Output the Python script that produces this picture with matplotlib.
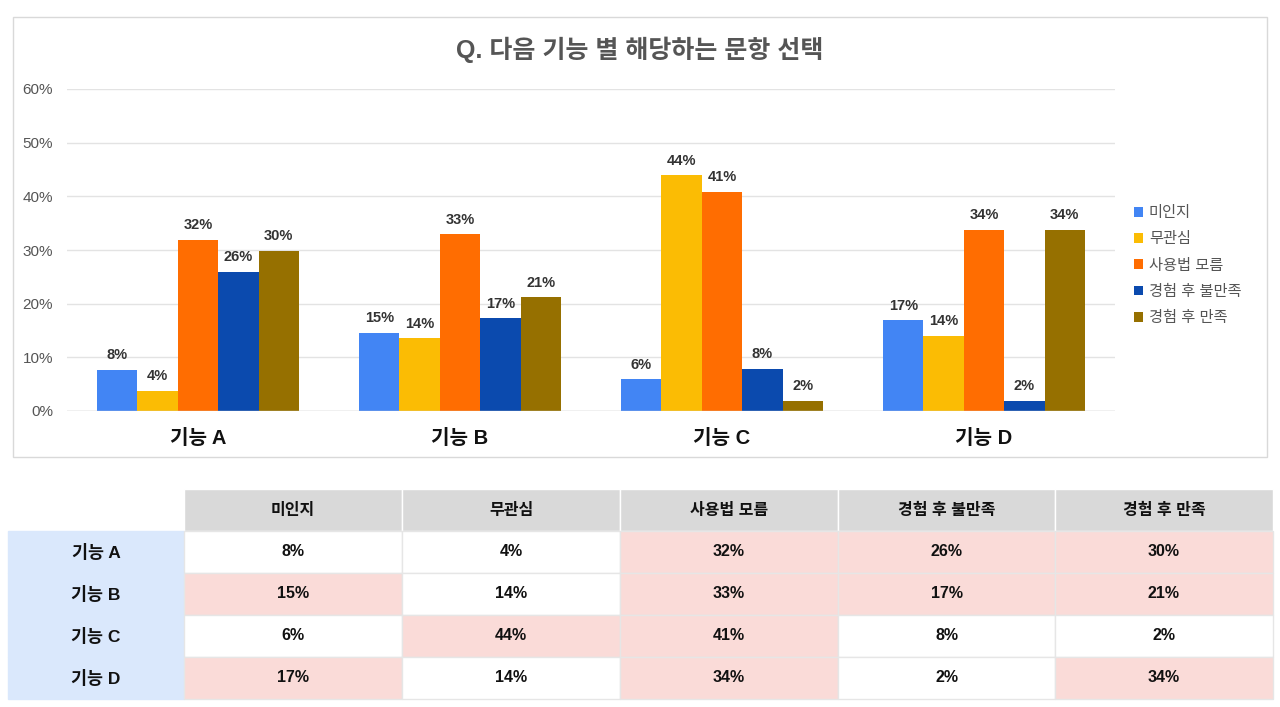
import matplotlib
matplotlib.use("Agg")
import matplotlib.pyplot as plt
from matplotlib.patches import Rectangle
import numpy as np

plt.rcParams['font.family'] = ['Liberation Sans', 'Noto Sans CJK KR', 'DejaVu Sans']

title = "Q. 다음 기능 별 해당하는 문항 선택"
categories = ["기능 A", "기능 B", "기능 C", "기능 D"]
series_names = ["미인지", "무관심", "사용법 모름", "경험 후 불만족", "경험 후 만족"]
mi_inji = [7.7, 14.6, 5.9, 16.9]
mugwansim = [3.8, 13.6, 43.9, 14.0]
sayongbeop = [31.9, 32.9, 40.9, 33.8]
bulmanjok = [25.9, 17.3, 7.9, 1.9]
manjok = [29.9, 21.2, 1.9, 33.8]
series_values = [mi_inji, mugwansim, sayongbeop, bulmanjok, manjok]
colors = ["#4285f4", "#fbbc04", "#ff6d01", "#0b4aae", "#967000"]
yticks = [0, 10, 20, 30, 40, 50, 60]

W, H = 1280, 707
fig = plt.figure(figsize=(W / 100, H / 100), dpi=100)

# overlay axes in pixel coordinates for frame and table
bg = fig.add_axes([0, 0, 1, 1])
bg.set_xlim(0, W)
bg.set_ylim(H, 0)
bg.axis('off')
bg.add_patch(Rectangle((13, 17), 1254, 440, fill=False, edgecolor="#d9d9d9", lw=1))
bg.text(640, 50, title, ha='center', va='center', fontsize=18, fontweight='bold', color='#555555')

# bar chart
ax = fig.add_axes([67 / W, 1 - 411 / H, (1115 - 67) / W, (411 - 89) / H])
n = len(series_names)
bw = 0.77 / n
x = np.arange(len(categories))
for i, (name, vals, c) in enumerate(zip(series_names, series_values, colors)):
    pos = x - 0.77 / 2 + bw * (i + 0.5)
    ax.bar(pos, vals, width=bw, color=c, label=name, zorder=3)
    for p, v in zip(pos, vals):
        ax.text(p, v + 1.4, f"{round(v)}%", ha='center', va='bottom', fontsize=10.5,
                fontweight='bold', color='#333333')
ax.set_xlim(-0.5, len(categories) - 0.5)
ax.set_ylim(0, 60)
ax.set_yticks(yticks)
ax.set_yticklabels([f"{t}%" for t in yticks], fontsize=11, color='#555555')
ax.set_xticks(x)
ax.set_xticklabels(categories, fontsize=14.5, fontweight='bold', color='#111111')
ax.tick_params(axis='both', length=0)
ax.tick_params(axis='y', pad=10)
ax.tick_params(axis='x', pad=13)
ax.grid(axis='y', color='#e3e3e3', lw=1, zorder=0)
for s in ax.spines.values():
    s.set_visible(False)
ax.axhline(0, color='#cccccc', lw=1, zorder=4)

leg = ax.legend(loc='upper left', bbox_to_anchor=(1.012, 0.655), frameon=False,
                fontsize=11, handlelength=0.6, handleheight=0.6, handletextpad=0.4,
                labelspacing=0.8, borderaxespad=0)
for t in leg.get_texts():
    t.set_color('#555555')

# table
col_x = [8, 184, 402, 620, 838, 1055, 1273]
row_y = [489, 531, 573, 615, 657, 699]
grid_c = "#e6e6e6"
for j, name in enumerate(series_names):
    x0, x1 = col_x[j + 1], col_x[j + 2]
    bg.add_patch(Rectangle((x0, row_y[0]), x1 - x0, row_y[1] - row_y[0],
                           facecolor='#d9d9d9', edgecolor='white', lw=1))
    bg.text((x0 + x1) / 2, (row_y[0] + row_y[1]) / 2, name, ha='center', va='center',
            fontsize=11.5, fontweight='bold', color='#111111')
for r, cat in enumerate(categories):
    y0, y1 = row_y[r + 1], row_y[r + 2]
    bg.add_patch(Rectangle((col_x[0], y0), col_x[1] - col_x[0], y1 - y0,
                           facecolor='#dae8fc', edgecolor='#dae8fc', lw=1))
    bg.text((col_x[0] + col_x[1]) / 2, (y0 + y1) / 2, cat, ha='center', va='center',
            fontsize=12.5, fontweight='bold', color='#111111')
    for j in range(n):
        v = round(series_values[j][r])
        x0, x1 = col_x[j + 1], col_x[j + 2]
        fc = '#fadbd8' if v >= 15 else 'white'
        bg.add_patch(Rectangle((x0, y0), x1 - x0, y1 - y0, facecolor=fc,
                               edgecolor=grid_c, lw=1))
        bg.text((x0 + x1) / 2, (y0 + y1) / 2, f"{v}%", ha='center', va='center',
                fontsize=11.5, fontweight='bold', color='#111111')

fig.savefig("out.png", dpi=100)
